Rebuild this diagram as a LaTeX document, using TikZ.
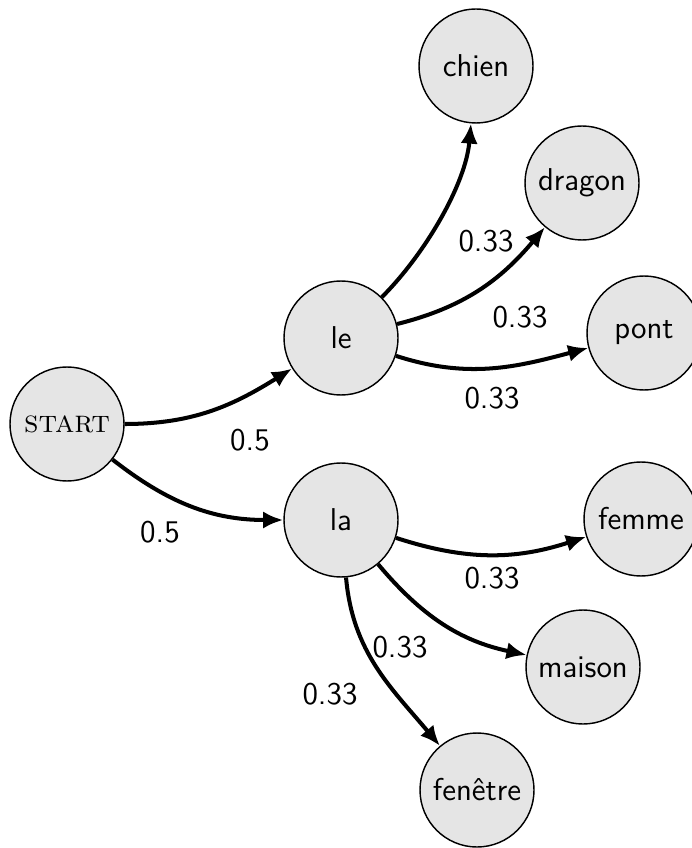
\documentclass[tikz,border=0pt]{standalone}
\usetikzlibrary{arrows.meta}
\begin{document}
\begin{tikzpicture}[x=0.3484pt,y=-0.3484pt,
  state/.style={circle,draw=black,line width=0.5pt,fill=black!10,minimum size=114*0.3484pt,inner sep=0pt,font=\fontsize{11}{13}\selectfont\sffamily},
  edge/.style={line width=1.4pt,-{Latex[length=7pt,width=6pt]}},
  lab/.style={font=\fontsize{11}{13}\selectfont\sffamily}]
\useasboundingbox (0,0) rectangle (691,848);
\node[state] (start) at (67,424) {\rmfamily\textsc{start}};
\node[state] (le) at (341,338) {le};
\node[state] (la) at (341,520) {la};
\node[state] (chien) at (476,66) {chien};
\node[state] (dragon) at (582,183) {dragon};
\node[state] (pont) at (644,333) {pont};
\node[state] (femme) at (641,519) {femme};
\node[state] (maison) at (583,667) {maison};
\node[state] (fenetre) at (477,790) {fenêtre};
\draw[edge] (start) to[out=0,in=212] (le);
\draw[edge] (start) to[out=-38,in=180] (la);
\draw[edge] (le) to[out=45,in=-95,looseness=0.8] (chien);
\draw[edge] (le) to[out=14,in=230] (dragon);
\draw[edge] (le) to[out=-18,in=195] (pont);
\draw[edge] (la) to[out=-18,in=198] (femme);
\draw[edge] (la) to[out=-50,in=168] (maison);
\draw[edge] (la) to[out=-85,in=130] (fenetre);
\node[lab] (l1) at (250,440) {0.5};
\node[lab] (l2) at (160,532) {0.5};
\node[lab] (l3) at (486,241) {0.33};
\node[lab] (l4) at (520,317) {0.33};
\node[lab] (l5) at (492,398) {0.33};
\node[lab] (l6) at (492,578) {0.33};
\node[lab] (l7) at (400,647) {0.33};
\node[lab] (l8) at (330,694) {0.33};
\end{tikzpicture}
\end{document}
